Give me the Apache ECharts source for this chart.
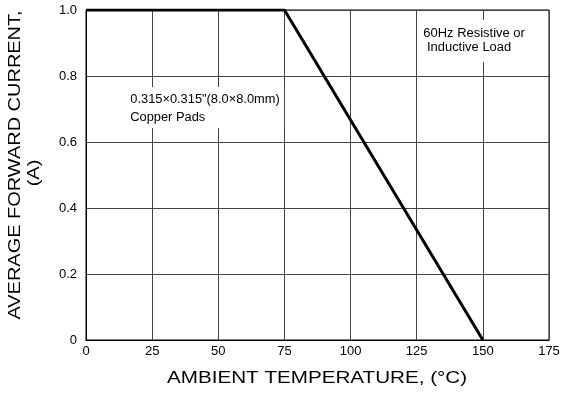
<!DOCTYPE html>
<html>
<head>
<meta charset="utf-8">
<script src="https://cdn.jsdelivr.net/npm/echarts@6/dist/echarts.min.js"></script>
<style>
  html, body { margin: 0; padding: 0; background: #fff; }
  #main { width: 563px; height: 394px; }
</style>
</head>
<body>
<div id="main"></div>
<script>
// derating curve points
var temps = [0, 75, 150];
var currents = [1.0, 1.0, 0];
var xTicks = [0, 25, 50, 75, 100, 125, 150, 175];
var yTicks = [0, 0.2, 0.4, 0.6, 0.8, 1.0];

var chart = echarts.init(document.getElementById("main"));
var font = "Liberation Sans, Arial, sans-serif";

var option = {
  animation: false,
  grid: {
    left: 86,
    right: 14,
    top: 10,
    bottom: 54,
    outerBoundsMode: "none",
    containLabel: false,
    show: true,
    borderColor: "#000",
    borderWidth: 1,
  },
  xAxis: {
    type: "value",
    min: xTicks[0],
    max: xTicks[xTicks.length - 1],
    interval: 25,
    axisLine: { show: true, lineStyle: { color: "#000" } },
    axisTick: { show: false },
    axisLabel: { color: "#000", fontSize: 13, fontFamily: font, margin: 5 },
    splitLine: { show: true, lineStyle: { color: "#444", width: 1 } },
  },
  yAxis: {
    type: "value",
    min: yTicks[0],
    max: yTicks[yTicks.length - 1],
    interval: 0.2,
    axisLine: { show: true, lineStyle: { color: "#000" } },
    axisTick: { show: false },
    axisLabel: {
      color: "#000",
      fontSize: 13,
      fontFamily: font,
      margin: 9,
      formatter: function (v) {
        return v === 0 ? "0" : v.toFixed(1);
      },
    },
    splitLine: { show: true, lineStyle: { color: "#444", width: 1 } },
  },
  series: [
    {
      type: "line",
      data: temps.map(function (t, i) { return [t, currents[i]]; }),
      symbol: "none",
      lineStyle: { color: "#000", width: 3 },
    },
  ],
  graphic: [
    // axis titles (letter-spaced in the original, so stretched a bit)
    {
      type: "text",
      x: 317,
      y: 378,
      scaleX: 1.25,
      style: {
        text: "AMBIENT TEMPERATURE, (°C)",
        fill: "#000",
        font: "16.5px " + font,
        align: "center",
        verticalAlign: "middle",
      },
    },
    {
      type: "text",
      x: 15,
      y: 165,
      rotation: Math.PI / 2,
      scaleX: 1.21,
      style: {
        text: "AVERAGE FORWARD CURRENT,",
        fill: "#000",
        font: "16.5px " + font,
        align: "center",
        verticalAlign: "middle",
      },
    },
    {
      type: "text",
      x: 34,
      y: 173,
      rotation: Math.PI / 2,
      scaleX: 1.21,
      style: {
        text: "(A)",
        fill: "#000",
        font: "16.5px " + font,
        align: "center",
        verticalAlign: "middle",
      },
    },
    // annotations
    {
      type: "text",
      x: 126,
      y: 87,
      z: 100,
      scaleX: 1.07,
      style: {
        text: '0.315×0.315"(8.0×8.0mm)\nCopper Pads',
        fill: "#000",
        font: "12px " + font,
        lineHeight: 18,
        backgroundColor: "#fff",
        padding: [4, 4, 1, 4],
      },
    },
    {
      type: "text",
      x: 419,
      y: 20,
      z: 100,
      scaleX: 1.08,
      style: {
        text: "60Hz Resistive or\n Inductive Load",
        fill: "#000",
        font: "12px " + font,
        lineHeight: 14,
        backgroundColor: "#fff",
        padding: [7, 6, 7, 4],
      },
    },
  ],
};

chart.setOption(option);
</script>
</body>
</html>
